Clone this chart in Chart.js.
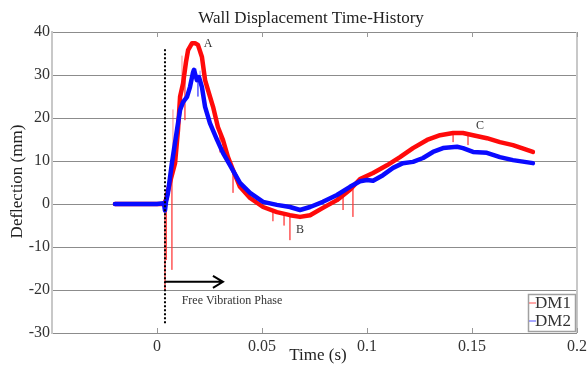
<!DOCTYPE html>
<html><head><meta charset="utf-8">
<script src="https://cdn.jsdelivr.net/npm/chart.js@4/dist/chart.umd.min.js"></script>
<style>html,body{margin:0;padding:0;background:#fff}#wrap{width:587px;height:365px;position:relative}</style>
</head><body><div id="wrap"><canvas id="c"></canvas></div>
<script>
// ---- data ----
const chartTitle = 'Wall Displacement Time-History';
const xTitle = 'Time (s)';
const yTitle = 'Deflection (mm)';
const seriesNames = ['DM1', 'DM2'];
const xTickValues = [0, 0.05, 0.1, 0.15, 0.2];
const yTickValues = [-30, -20, -10, 0, 10, 20, 30, 40];

const dm1Time = [-0.02, -0.01, 0.0, 0.0033, 0.0043, 0.0052, 0.0067, 0.0086, 0.0100, 0.0110, 0.0124, 0.0138, 0.0148, 0.0167, 0.0181, 0.0195, 0.0214, 0.0229, 0.0243, 0.0267, 0.0290, 0.0314, 0.0338, 0.0362, 0.0395, 0.0443, 0.0505, 0.0571, 0.0633, 0.0681, 0.0729, 0.0790, 0.0857, 0.0919, 0.0967, 0.1029, 0.1095, 0.1157, 0.1219, 0.1286, 0.1348, 0.1410, 0.1457, 0.1505, 0.1571, 0.1633, 0.1695, 0.1790];
const dm1Defl = [0, 0, 0, 0, 1, 3, 6, 9.5, 17.2, 25, 28, 33, 35.8, 37.4, 37.4, 37, 34.2, 28.8, 26.5, 22.6, 17.9, 14.9, 10.9, 7.9, 4.0, 1.4, -0.7, -1.9, -2.6, -3.0, -2.6, -0.9, 0.9, 3.3, 5.8, 7.2, 9.0, 10.9, 13.0, 14.9, 16.0, 16.5, 16.5, 16.0, 15.3, 14.4, 13.7, 12.1];

const dm2Time = [-0.02, -0.01, 0.0, 0.0033, 0.0038, 0.0043, 0.0052, 0.0071, 0.0095, 0.0110, 0.0124, 0.0143, 0.0157, 0.0171, 0.0176, 0.0190, 0.0200, 0.0214, 0.0229, 0.0252, 0.0286, 0.0314, 0.0348, 0.0395, 0.0443, 0.0505, 0.0571, 0.0633, 0.0681, 0.0729, 0.0790, 0.0857, 0.0919, 0.0967, 0.1000, 0.1029, 0.1076, 0.1124, 0.1171, 0.1219, 0.1267, 0.1314, 0.1362, 0.1429, 0.1457, 0.1505, 0.1571, 0.1633, 0.1695, 0.1790];
const dm2Defl = [0, 0, 0, 0.2, -1.5, 0.5, 2.5, 9.5, 17.2, 21.9, 23.7, 24.9, 27.2, 30.5, 31.2, 28.8, 29.5, 27.2, 22.6, 18.8, 14.9, 11.9, 9.0, 4.9, 2.6, 0.5, -0.2, -0.7, -1.4, -0.7, 0.5, 2.1, 4.0, 5.3, 5.6, 5.4, 6.7, 8.4, 9.5, 9.8, 10.7, 12.1, 13.0, 13.3, 13.0, 12.1, 11.9, 10.9, 10.2, 9.5];

// thin noise spikes: time, level they leave the trace, tip value
const dm1SpikeTime = [0.0038, 0.0045, 0.0071, 0.0076, 0.0119, 0.0133, 0.0300, 0.0362, 0.0552, 0.0605, 0.0633, 0.0886, 0.0933, 0.1410, 0.1481];
const dm1SpikeFrom = [0, 0, 6, 8, 25, 30, 16, 7.5, -1.2, -2.3, -2.6, 2, 4, 16.5, 16.5];
const dm1SpikeTo = [-20, -13, -15.3, 22, 34.5, 19.5, 12, 2.6, -4, -5, -8.4, -1.4, -3, 14.4, 13.7];
const dm2SpikeTime = [0.0162, 0.0186, 0.0195, 0.0205];
const dm2SpikeFrom = [27, 29, 29, 28];
const dm2SpikeTo = [30, 31.5, 25, 31];

// annotations (data coordinates)
const markerTime = 0.0038, markerTop = 36, markerBottom = -28;
const arrowLevel = -18.1, arrowEnd = 0.0314;
const phaseText = 'Free Vibration Phase', phaseTextPos = [0.0357, -22.6];
const pointLabels = ['A', 'B', 'C'];
const pointLabelPos = [[0.0243, 37.2], [0.0681, -6.0], [0.1538, 18.1]];

// ---- build datasets ----
const toXY = (t, v) => t.map((x, i) => ({x, y: v[i]}));
const spikes = (t, a, b) => { const out = []; t.forEach((x, i) => { out.push({x, y: a[i]}, {x, y: b[i]}, {x, y: null}); }); return out; };

const SERIF = '"Liberation Serif", "Times New Roman", serif';

const overlay = {
  id: 'overlay',
  afterDatasetsDraw(chart) {
    const {ctx, chartArea: a, scales: {x, y}} = chart;
    ctx.save();
    // right frame
    ctx.strokeStyle = '#c8c8c8'; ctx.lineWidth = 2;
    ctx.beginPath(); ctx.moveTo(a.right, a.top); ctx.lineTo(a.right, a.bottom); ctx.stroke();
    // x tick marks (inside, top and bottom)
    ctx.strokeStyle = '#999'; ctx.lineWidth = 1;
    xTickValues.forEach(v => {
      const px = Math.round(x.getPixelForValue(v)) + 0.5;
      ctx.beginPath(); ctx.moveTo(px, a.top); ctx.lineTo(px, a.top + 5);
      ctx.moveTo(px, a.bottom); ctx.lineTo(px, a.bottom - 5); ctx.stroke();
    });
    // dotted marker
    const mx = x.getPixelForValue(markerTime);
    ctx.strokeStyle = '#000'; ctx.lineWidth = 2; ctx.setLineDash([2, 2]);
    ctx.beginPath(); ctx.moveTo(mx, y.getPixelForValue(markerTop)); ctx.lineTo(mx, y.getPixelForValue(markerBottom)); ctx.stroke();
    ctx.setLineDash([]);
    // arrow
    const ay = y.getPixelForValue(arrowLevel), ax2 = x.getPixelForValue(arrowEnd);
    ctx.lineWidth = 2;
    ctx.beginPath(); ctx.moveTo(mx, ay); ctx.lineTo(ax2, ay);
    ctx.moveTo(ax2 - 10, ay - 6); ctx.lineTo(ax2, ay); ctx.lineTo(ax2 - 10, ay + 6); ctx.stroke();
    // texts
    ctx.fillStyle = '#333'; ctx.textAlign = 'center'; ctx.textBaseline = 'middle';
    ctx.font = '12px ' + SERIF;
    ctx.fillText(phaseText, x.getPixelForValue(phaseTextPos[0]), y.getPixelForValue(phaseTextPos[1]));
    pointLabels.forEach((s, i) => ctx.fillText(s, x.getPixelForValue(pointLabelPos[i][0]), y.getPixelForValue(pointLabelPos[i][1])));
    // legend
    const lw = 47, lh = 37, lx = a.right - 2 - lw, ly = a.bottom - 2 - lh;
    ctx.fillStyle = '#fff'; ctx.fillRect(lx, ly, lw, lh);
    ctx.strokeStyle = '#a0a0a0'; ctx.lineWidth = 1.5; ctx.strokeRect(lx + 0.5, ly + 0.5, lw, lh);
    const cols = ['#ff5050', '#5050ff'];
    ctx.font = '17px ' + SERIF; ctx.textAlign = 'left'; ctx.textBaseline = 'middle';
    seriesNames.forEach((n, i) => {
      const yy = ly + 9 + i * 18;
      ctx.strokeStyle = cols[i]; ctx.lineWidth = 1;
      ctx.beginPath(); ctx.moveTo(lx + 1, yy); ctx.lineTo(lx + 8, yy); ctx.stroke();
      ctx.fillStyle = '#333'; ctx.fillText(n, lx + 7, yy + 1);
    });
    // titles
    ctx.fillStyle = '#222'; ctx.textAlign = 'center'; ctx.textBaseline = 'alphabetic';
    ctx.font = '17px ' + SERIF;
    ctx.fillText(chartTitle, 311, 23);
    ctx.fillText(xTitle, 318, 360);
    ctx.translate(22, (a.top + a.bottom) / 2 - 1);
    ctx.rotate(-Math.PI / 2);
    ctx.fillText(yTitle, 0, 0);
    ctx.restore();
  }
};

new Chart(document.getElementById('c'), {
  type: 'line',
  data: {
    datasets: [
      {label: seriesNames[1], data: toXY(dm2Time, dm2Defl), borderColor: '#0a0aff', borderWidth: 4.5, pointRadius: 0, tension: 0, order: 0, borderJoinStyle: 'round', borderCapStyle: 'round'},
      {label: seriesNames[1] + ' spikes', data: spikes(dm2SpikeTime, dm2SpikeFrom, dm2SpikeTo), borderColor: 'rgba(60,60,255,0.6)', borderWidth: 1, pointRadius: 0, spanGaps: false, order: 1},
      {label: seriesNames[0], data: toXY(dm1Time, dm1Defl), borderColor: '#ff0a0a', borderWidth: 4.5, pointRadius: 0, tension: 0, order: 2, borderJoinStyle: 'round', borderCapStyle: 'round'},
      {label: seriesNames[0] + ' spikes', data: spikes(dm1SpikeTime, dm1SpikeFrom, dm1SpikeTo), borderColor: 'rgba(255,60,60,0.6)', borderWidth: 1, pointRadius: 0, spanGaps: false, order: 3}
    ]
  },
  options: {
    responsive: true, maintainAspectRatio: false, animation: false,
    layout: {padding: {top: 32, right: 10, left: 0, bottom: 0}},
    plugins: {legend: {display: false}, tooltip: {enabled: false}, title: {display: false}},
    scales: {
      x: {
        type: 'linear', min: -0.05, max: 0.2,
        afterFit: s => { s.height = 32; },
        afterBuildTicks: s => { s.ticks = [-0.05].concat(xTickValues).map(v => ({value: v})); },
        grid: {display: false}, border: {display: false},
        ticks: {autoSkip: false, maxRotation: 0, padding: -4, color: '#333', font: {family: SERIF, size: 16},
          callback: v => v < -0.001 ? '' : String(parseFloat(v.toFixed(2)))}
      },
      y: {
        min: -30, max: 40,
        afterFit: s => { s.width = 52; },
        afterBuildTicks: s => { s.ticks = yTickValues.map(v => ({value: v})); },
        grid: {color: '#8c8c8c', lineWidth: 1, drawTicks: false},
        border: {color: '#c8c8c8', width: 2},
        ticks: {padding: 2, color: '#333', font: {family: SERIF, size: 16}}
      }
    }
  },
  plugins: [overlay]
});
</script>
</body></html>
